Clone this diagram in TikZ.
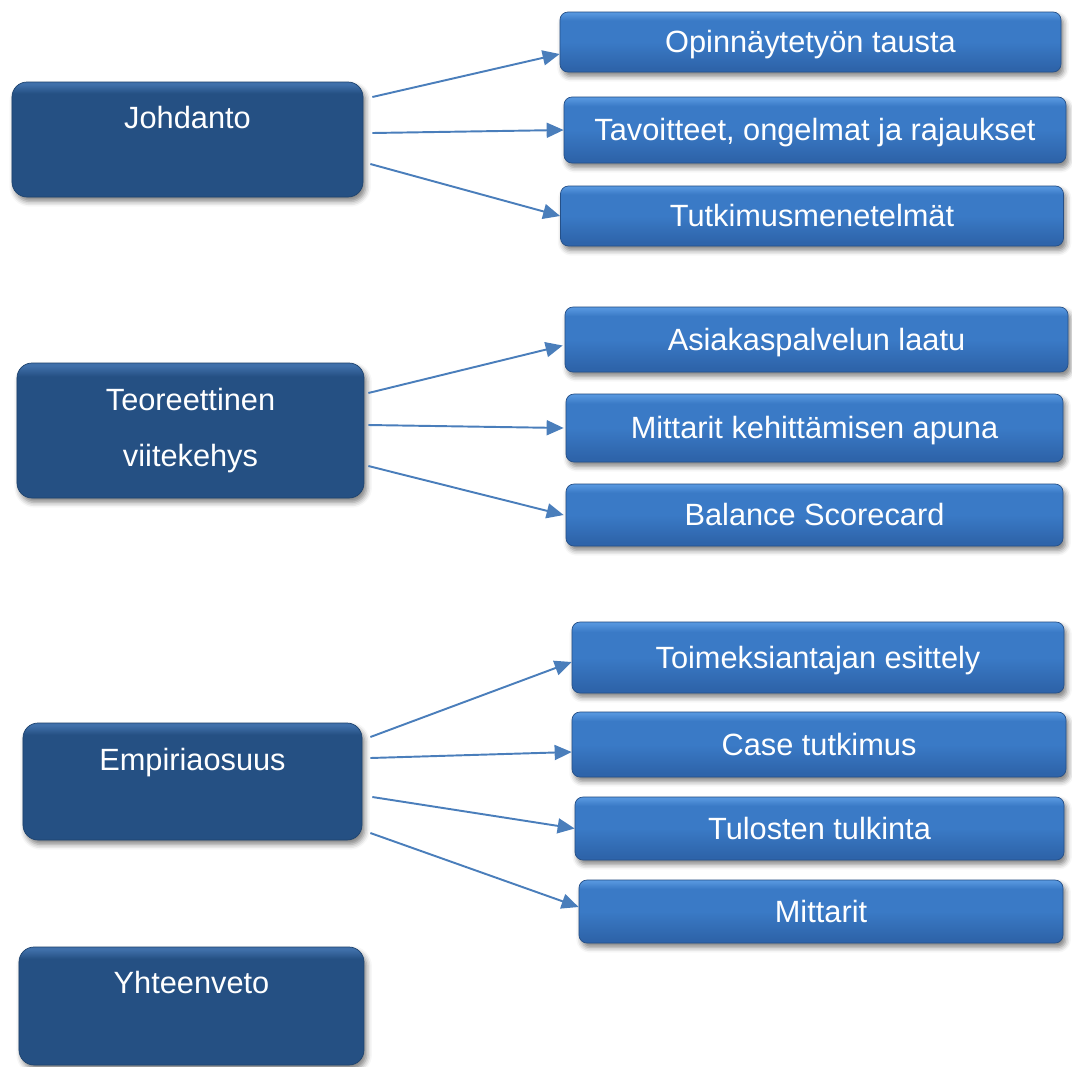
\documentclass[tikz,border=0pt]{standalone}
\usepackage{fontspec}
\setmainfont{Liberation Sans}
\usetikzlibrary{arrows.meta}
\usetikzlibrary{calc,shadows.blur,positioning}

\definecolor{darkbox}{RGB}{37,80,131}
\definecolor{darkboxtop}{RGB}{64,112,170}
\definecolor{lightboxtop}{RGB}{86,150,222}
\definecolor{lightbox}{RGB}{58,122,198}
\definecolor{lightboxbot}{RGB}{46,100,170}
\definecolor{arrowblue}{RGB}{74,126,187}

% dark box: flat fill with a thin lighter band on top
\pgfdeclareverticalshading{darkbevel}{100bp}{color(0bp)=(darkbox); color(70bp)=(darkbox);
	color(74bp)=(darkboxtop); color(100bp)=(darkboxtop)}
\pgfdeclareverticalshading{lightbevel}{100bp}{color(0bp)=(lightboxbot); color(28bp)=(lightboxbot);
	color(50bp)=(lightbox); color(68bp)=(lightbox); color(74bp)=(lightboxtop); color(100bp)=(lightboxtop)}

\begin{document}
\begin{tikzpicture}[x=0.2mm,y=-0.2mm]
			\useasboundingbox (0,0) rectangle (1072,1066);

			% main chapters
			\begin{scope}[every node/.style={rounded corners=0.3cm,draw=darkbox!85!black,
					shading=darkbevel,
					blur shadow={shadow xshift=1.5pt,shadow yshift=-2.5pt,shadow blur radius=3pt,shadow opacity=50},
					text=white,inner sep=0pt,align=center,
					font=\fontsize{17.5}{32.4}\selectfont}]
				\node[text width=7.02cm,text height=0.92cm,text depth=1.38cm] (joh) at (187.5,139.5) {Johdanto};
				\node[text width=6.94cm,text height=0.94cm,text depth=1.76cm] (teo) at (190.5,430.5) {Teoreettinen\\viitekehys};
				\node[text width=6.78cm,text height=0.94cm,text depth=1.40cm] (emp) at (192.5,781.5) {Empiriaosuus};
				\node[text width=6.90cm,text height=0.92cm,text depth=1.44cm] (yht) at (191.5,1006) {Yhteenveto};
			\end{scope}

			% sub chapters
			\begin{scope}[every node/.style={rounded corners=0.16cm,draw=lightboxbot!80!black,
					shading=lightbevel,
					blur shadow={shadow xshift=1.5pt,shadow yshift=-2.5pt,shadow blur radius=3pt,shadow opacity=50},
					text=white,inner sep=0pt,text height=12.5pt,text depth=0pt,
					font=\fontsize{17.5}{21}\selectfont}]
				\node[minimum width=10.02cm,minimum height=1.20cm] (tau) at (810.5,42) {Opinnäytetyön tausta};
				\node[minimum width=10.04cm,minimum height=1.32cm] (tav) at (815,130) {Tavoitteet, ongelmat ja rajaukset};
				\node[minimum width=10.06cm,minimum height=1.20cm] (tut) at (812,216) {Tutkimusmenetelmät};
				\node[minimum width=10.06cm,minimum height=1.30cm] (asi) at (816.5,339.5) {Asiakaspalvelun laatu};
				\node[minimum width=9.94cm,minimum height=1.36cm] (mit) at (814.5,428) {Mittarit kehittämisen apuna};
				\node[minimum width=9.94cm,minimum height=1.24cm] (bal) at (814.5,515) {Balance Scorecard};
				\node[minimum width=9.84cm,minimum height=1.42cm] (toi) at (818,657.5) {Toimeksiantajan esittely};
				\node[minimum width=9.88cm,minimum height=1.30cm] (cas) at (819,744.5) {Case tutkimus};
				\node[minimum width=9.78cm,minimum height=1.26cm] (tul) at (819.5,828.5) {Tulosten tulkinta};
				\node[minimum width=9.68cm,minimum height=1.26cm] (mtr) at (821,911.5) {Mittarit};
			\end{scope}

			\begin{scope}[>={Triangle[length=3.4mm,width=3mm]},
				every edge/.style={draw=arrowblue,line width=1.1pt,->}]
				\path ($(joh.east)+(9,-42.5)$) edge ($(tau.west)+(0,12)$);
				\path ($(joh.east)+(9,-6.5)$) edge (tav.west);
				\path ($(joh.east)+(7,24.5)$) edge (tut.west);
				\path ($(teo.east)+(4,-37.5)$) edge ($(asi.west)+(-2,6)$);
				\path ($(teo.east)+(4,-5.5)$) edge ($(mit.west)+(-2,0)$);
				\path ($(teo.east)+(4,35.5)$) edge ($(bal.west)+(-2,0)$);
				\path ($(emp.east)+(8,-44.5)$) edge ($(toi.west)+(0,4.5)$);
				\path ($(emp.east)+(8,-23.5)$) edge ($(cas.west)+(0,7.5)$);
				\path ($(emp.east)+(10,15.5)$) edge (tul.west);
				\path ($(emp.east)+(8,51.5)$) edge ($(mtr.west)+(0,-4.5)$);
			\end{scope}
		\end{tikzpicture}
\end{document}
